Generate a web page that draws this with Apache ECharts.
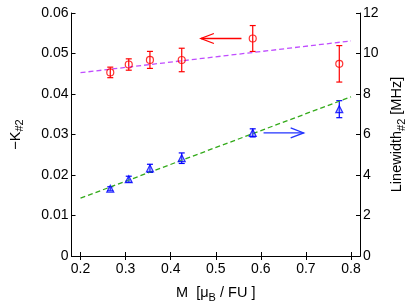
<!DOCTYPE html>
<html>
<head>
<meta charset="utf-8">
<script src="https://cdn.jsdelivr.net/npm/echarts@6/dist/echarts.min.js"></script>
<style>html,body{margin:0;padding:0;background:#fff}#c{width:415px;height:308px}</style>
</head>
<body>
<div id="c"></div>
<script>
// Data
const M = [0.266, 0.307, 0.354, 0.4245, 0.582, 0.774];
const K = [0.04533, 0.04728, 0.04842, 0.0484, 0.0537, 0.04745];
const Kerr = [0.0013, 0.0014, 0.0021, 0.0029, 0.0032, 0.0045];
const LW = [3.32, 3.79, 4.33, 4.83, 6.08, 7.25];
const LWerr = [0.1, 0.15, 0.2, 0.26, 0.2, 0.42];
const fitK = [[0.2, 0.04526], [0.8, 0.0531]];
const fitLW = [[0.2, 2.855], [0.8, 7.86]];
const xTicks = [0.2, 0.3, 0.4, 0.5, 0.6, 0.7, 0.8];
const redArrow = [[0.557, 0.0537], [0.467, 0.0537]];
const blueArrow = [[0.606, 6.08], [0.695, 6.08]];

const FONT = 'Liberation Sans, Arial, sans-serif';
const chart = echarts.init(document.getElementById('c'), null, {renderer: 'canvas'});

function errRender(color) {
  return function (params, api) {
    const x = api.value(0);
    const lo = api.coord([x, api.value(1)]);
    const hi = api.coord([x, api.value(2)]);
    const w = 3;
    const st = {stroke: color, lineWidth: 1.2};
    return {type: 'group', children: [
      {type: 'line', shape: {x1: lo[0], y1: lo[1], x2: hi[0], y2: hi[1]}, style: st},
      {type: 'line', shape: {x1: lo[0]-w, y1: lo[1], x2: lo[0]+w, y2: lo[1]}, style: st},
      {type: 'line', shape: {x1: hi[0]-w, y1: hi[1], x2: hi[0]+w, y2: hi[1]}, style: st}
    ]};
  };
}
function arrowRender(color) {
  return function (params, api) {
    if (params.dataIndex !== 0) return null;
    const a = api.coord([api.value(0), api.value(1)]);
    const b = api.coord([api.value(2), api.value(3)]);
    const dir = Math.sign(b[0] - a[0]);
    const L = 13, H = 5;
    const st = {stroke: color, lineWidth: 1.3, fill: null};
    return {type: 'group', children: [
      {type: 'line', shape: {x1: a[0], y1: a[1], x2: b[0], y2: b[1]}, style: st},
      {type: 'polyline', shape: {points: [[b[0]-dir*L, b[1]-H], [b[0], b[1]], [b[0]-dir*L, b[1]+H]]}, style: st}
    ]};
  };
}

const TS = 14, NS = 14.5, SS = 11;
const axisCommon = {
  axisLine: {show: true, lineStyle: {color: '#000', width: 1}},
  axisTick: {show: true, inside: true, length: 4, lineStyle: {color: '#000'}},
  splitLine: {show: false},
  axisLabel: {color: '#000', fontFamily: FONT, fontSize: TS}
};
const richName = {
  n: {fontFamily: FONT, fontSize: NS, color: '#000'},
  s: {fontFamily: FONT, fontSize: SS, color: '#000', verticalAlign: 'bottom', padding: [9, 0, 0, 0]}
};

chart.setOption({
  animation: false,
  grid: {left: 59, right: 44, top: 13, bottom: 48, containLabel: false},
  xAxis: [
    Object.assign({}, axisCommon, {
      type: 'value', min: 0.18, max: 0.82, position: 'bottom',
      axisTick: Object.assign({}, axisCommon.axisTick, {customValues: xTicks}),
      axisLabel: Object.assign({}, axisCommon.axisLabel, {customValues: xTicks, margin: 6,
        formatter: v => (Math.round(v * 10) / 10).toString()}),
      name: '{n|M  [μ}{s|B}{n| / FU ]}', nameLocation: 'middle', nameGap: 27,
      nameTextStyle: {rich: richName}
    }),
    Object.assign({}, axisCommon, {
      type: 'value', min: 0.18, max: 0.82, position: 'top',
      axisTick: Object.assign({}, axisCommon.axisTick, {customValues: xTicks}),
      axisLabel: {show: false}
    })
  ],
  yAxis: [
    Object.assign({}, axisCommon, {
      type: 'value', min: 0, max: 0.06, interval: 0.01, position: 'left',
      axisLabel: Object.assign({}, axisCommon.axisLabel, {margin: 3,
        formatter: v => v === 0 ? '0' : v.toFixed(2)}),
      name: '{n|−K}{s|#2}', nameLocation: 'middle', nameGap: 46, nameRotate: 90,
      nameTextStyle: {rich: richName}
    }),
    Object.assign({}, axisCommon, {
      type: 'value', min: 0, max: 12, interval: 2, position: 'right',
      axisLabel: Object.assign({}, axisCommon.axisLabel, {margin: 3}),
      name: '{n|Linewidth}{s|#2}{n| [MHz]}', nameLocation: 'middle', nameGap: 23, nameRotate: 90,
      nameTextStyle: {rich: richName}
    })
  ],
  series: [
    {type: 'line', data: fitK, yAxisIndex: 0, symbol: 'none', silent: true,
      lineStyle: {color: '#c04dff', width: 1.3, type: [5, 3]}},
    {type: 'line', data: fitLW, yAxisIndex: 1, symbol: 'none', silent: true,
      lineStyle: {color: '#33aa1a', width: 1.3, type: [5, 3]}},
    {type: 'custom', yAxisIndex: 0, renderItem: errRender('#ff0000'),
      data: M.map((m, i) => [m, K[i] - Kerr[i], K[i] + Kerr[i]]), z: 3},
    {type: 'custom', yAxisIndex: 1, renderItem: errRender('#0000ff'),
      data: M.map((m, i) => [m, LW[i] - LWerr[i], LW[i] + LWerr[i]]), z: 3},
    {type: 'scatter', yAxisIndex: 0, data: M.map((m, i) => [m, K[i]]), symbol: 'circle', symbolSize: 7,
      itemStyle: {color: 'rgba(255,255,255,0)', borderColor: '#ff0000', borderWidth: 1.2}, z: 4},
    {type: 'scatter', yAxisIndex: 1, data: M.map((m, i) => [m, LW[i]]), symbol: 'triangle', symbolSize: 7,
      itemStyle: {color: 'rgba(90,110,255,0.5)', borderColor: '#0000ff', borderWidth: 1.2}, z: 4},
    {type: 'custom', yAxisIndex: 0, renderItem: arrowRender('#ff0000'),
      data: [[redArrow[0][0], redArrow[0][1], redArrow[1][0], redArrow[1][1]]], z: 5},
    {type: 'custom', yAxisIndex: 1, renderItem: arrowRender('#2233ff'),
      data: [[blueArrow[0][0], blueArrow[0][1], blueArrow[1][0], blueArrow[1][1]]], z: 5}
  ]
});
</script>
</body>
</html>
